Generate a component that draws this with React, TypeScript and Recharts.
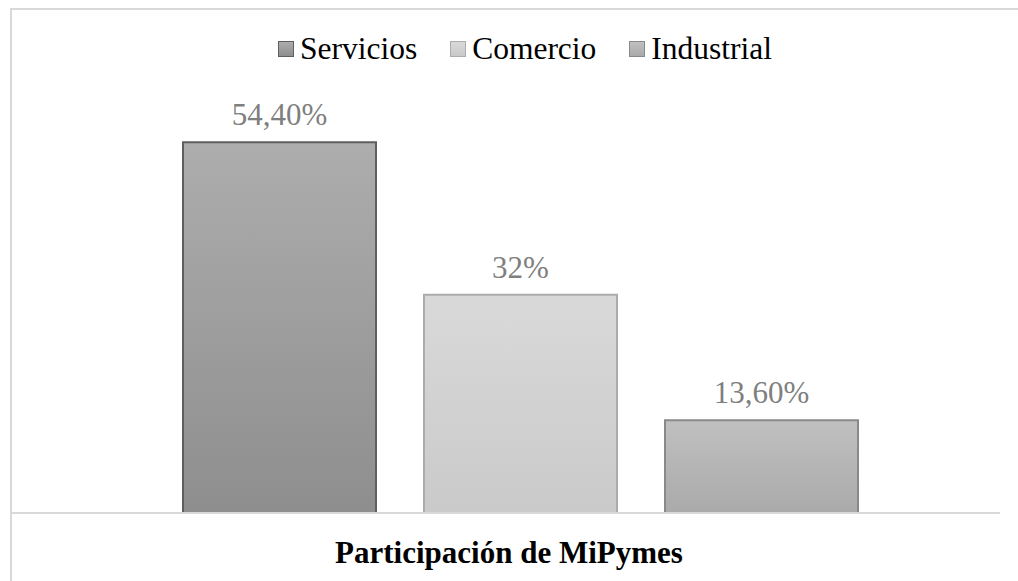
import React from 'react';
import { BarChart, Bar, XAxis, YAxis, Legend, LabelList } from 'recharts';

const category = 'Participación de MiPymes';
const seriesNames = ['Servicios', 'Comercio', 'Industrial'];
const seriesValues = [54.4, 32, 13.6];
const valueLabels = ['54,40%', '32%', '13,60%'];

const fillTop = ['#adadad', '#d9d9d9', '#c0c0c0'];
const fillBottom = ['#8e8e8e', '#cacaca', '#aaaaaa'];
const strokes = ['#5f5f5f', '#acacac', '#898989'];

const row: Record<string, string | number> = { name: category };
seriesNames.forEach((s, i) => {
  row[s] = seriesValues[i];
  row[`${s}Label`] = valueLabels[i];
});
const chartData = [row];

const FONT = '"Liberation Serif", "Times New Roman", serif';

const LegendContent = () => (
  <div
    style={{
      display: 'flex',
      justifyContent: 'center',
      alignItems: 'center',
      gap: 33,
      paddingLeft: 32,
      fontFamily: FONT,
      fontSize: 31.5,
      color: '#000',
    }}
  >
    {seriesNames.map((s, i) => (
      <div key={s} style={{ display: 'flex', alignItems: 'center' }}>
        <span
          style={{
            display: 'inline-block',
            width: 14,
            height: 14,
            marginRight: 6,
            background: `linear-gradient(${fillTop[i]}, ${fillBottom[i]})`,
            border: `1px solid ${strokes[i]}`,
          }}
        />
        <span>{s}</span>
      </div>
    ))}
  </div>
);

const App: React.FC = () => (
  <div
    style={{
      position: 'absolute',
      left: 0,
      top: 0,
      width: 1018,
      height: 581,
      overflow: 'hidden',
      background: '#fff',
    }}
  >
    <style>{'html,body{margin:0;overflow:hidden;}'}</style>
    <div style={{ position: 'absolute', left: 10, top: 8, width: 1008, height: 2, background: '#d9d9d9' }} />
    <div style={{ position: 'absolute', left: 10, top: 8, width: 2, height: 573, background: '#d9d9d9' }} />
    <div style={{ position: 'absolute', left: 0, top: 0 }}>
      <BarChart
        width={1018}
        height={581}
        data={chartData}
        margin={{ top: 104, right: 18, bottom: 67, left: 12 }}
        barSize={193}
        barGap={48}
      >
        <defs>
          {seriesNames.map((s, i) => (
            <linearGradient key={s} id={`grad${i}`} x1="0" y1="0" x2="0" y2="1">
              <stop offset="0%" stopColor={fillTop[i]} />
              <stop offset="100%" stopColor={fillBottom[i]} />
            </linearGradient>
          ))}
        </defs>
        <XAxis
          dataKey="name"
          tick={false}
          tickLine={false}
          height={1}
          padding={{ left: 28, right: 0 }}
          axisLine={{ stroke: '#d9d9d9', strokeWidth: 2 }}
        />
        <YAxis hide domain={[0, 60]} />
        <Legend
          layout="horizontal"
          verticalAlign="middle"
          align="center"
          wrapperStyle={{ top: 31, left: 0, width: 1018 }}
          content={LegendContent}
        />
        {seriesNames.map((s, i) => (
          <Bar
            key={s}
            dataKey={s}
            fill={`url(#grad${i})`}
            stroke={strokes[i]}
            strokeWidth={2}
            isAnimationActive={false}
          >
            <LabelList
              dataKey={`${s}Label`}
              position="top"
              offset={17}
              fill="#7f7f7f"
              fontSize={31}
              fontFamily={FONT}
            />
          </Bar>
        ))}
      </BarChart>
    </div>
    <div
      style={{
        position: 'absolute',
        left: 0,
        width: 1018,
        top: 535,
        textAlign: 'center',
        fontFamily: FONT,
        fontWeight: 'bold',
        fontSize: 31,
        color: '#000',
      }}
    >
      {category}
    </div>
  </div>
);

export default App;
